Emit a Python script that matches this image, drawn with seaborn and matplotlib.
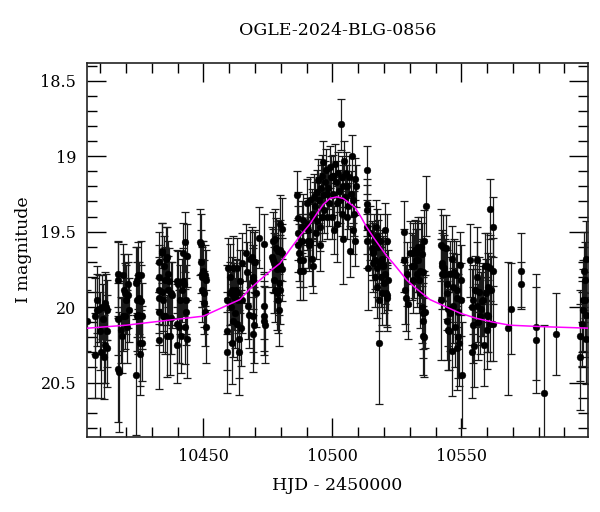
import numpy as np
import pandas as pd
import matplotlib
matplotlib.use("Agg")
import matplotlib.pyplot as plt
from matplotlib.ticker import MultipleLocator
import seaborn as sns

# ---------------- data ----------------
hjd = [
    10405.0, 10408.0, 10408.0, 10408.9, 10408.6, 10409.7, 10409.9, 10410.2, 10410.8, 10411.0,
    10411.5, 10411.9, 10412.0, 10412.3, 10412.8, 10412.8, 10412.5,
    10417.0, 10417.0, 10417.0, 10416.8, 10417.4, 10417.9, 10418.3, 10418.7, 10419.0, 10419.2,
    10419.6, 10419.6, 10419.9, 10420.3, 10420.6, 10420.9, 10421.2,
    10423.9, 10424.1, 10424.1, 10424.1, 10423.9, 10424.8, 10424.8, 10425.2, 10425.4, 10425.4,
    10425.8, 10426.1, 10426.1, 10425.8,
    10432.8, 10432.9, 10432.9, 10432.9, 10432.9, 10432.9, 10433.8, 10433.8, 10433.8, 10434.2,
    10434.5, 10434.7, 10435.1, 10435.1, 10435.5, 10435.8, 10436.0, 10436.4, 10436.4, 10436.8,
    10437.1, 10437.3, 10437.7, 10437.4,
    10439.9, 10439.9, 10439.9, 10440.3, 10440.7, 10440.9, 10441.2, 10441.6, 10442.0, 10442.2,
    10442.5, 10442.9, 10443.0, 10443.3, 10443.3, 10443.8, 10443.5,
    10448.7, 10448.9, 10448.9, 10449.3, 10449.3, 10449.6, 10450.0, 10450.2, 10450.4, 10450.6,
    10450.6, 10450.9, 10451.0,
    10459.0, 10459.0, 10459.0, 10459.7, 10460.3, 10460.3, 10460.6, 10461.0, 10461.0, 10461.3,
    10461.6, 10461.9, 10462.2, 10462.6, 10462.9, 10463.2, 10463.2, 10463.5, 10463.9, 10463.9,
    10464.4, 10464.8, 10464.8, 10464.2, 10466.5, 10466.8, 10467.4,
    10467.8, 10468.1, 10468.7, 10469.1, 10469.6, 10469.4, 10470.0, 10469.1, 10469.6, 10469.4,
    10470.3, 10471.7, 10473.6, 10473.5, 10473.5, 10473.5, 10473.9,
    10476.5, 10476.9, 10477.1, 10477.4, 10477.5, 10477.8, 10477.9, 10478.1, 10478.4, 10478.7,
    10478.8, 10479.0, 10479.4, 10479.4, 10479.7, 10479.9, 10479.9, 10480.3, 10480.3, 10480.5,
    10479.7,
    10486.4, 10486.8, 10486.8, 10486.8, 10487.2, 10487.4, 10487.4, 10488.1, 10488.1, 10488.5,
    10488.5, 10488.7, 10490.0, 10490.0, 10490.7, 10490.7, 10490.9, 10491.3, 10491.3, 10492.0,
    10492.0, 10492.4, 10492.6, 10492.9, 10493.3, 10493.6, 10493.9, 10494.2, 10494.6, 10494.9,
    10495.2, 10495.2, 10495.5, 10495.8, 10495.8, 10496.2, 10496.5, 10496.8, 10497.1, 10497.5,
    10497.8, 10498.0, 10498.4, 10498.8, 10499.1, 10499.3, 10499.7, 10500.1, 10500.4, 10500.6,
    10501.0, 10501.4, 10501.7, 10501.9, 10502.3, 10502.7, 10502.9, 10503.2, 10503.6, 10503.6,
    10504.0, 10504.2, 10504.5, 10504.9, 10505.3, 10505.5, 10505.8, 10506.2, 10506.6, 10506.8,
    10507.1, 10507.5, 10507.9, 10508.1, 10508.4, 10508.8, 10509.2, 10508.8,
    10513.3, 10513.3, 10513.3, 10513.5, 10513.5, 10513.9, 10514.6, 10515.2, 10515.6, 10515.9,
    10515.9, 10516.1, 10516.5, 10516.5, 10516.9, 10517.2, 10517.2, 10517.4, 10517.8, 10518.2,
    10518.2, 10518.2, 10518.5, 10518.7, 10519.1, 10519.1, 10519.5, 10519.7, 10520.0, 10520.4,
    10520.4, 10520.8, 10521.0, 10521.3, 10521.0, 10521.7,
    10527.8, 10527.8, 10528.1, 10528.4, 10528.8, 10529.4,
    10530.1, 10530.7, 10531.1, 10531.4, 10531.6, 10532.0, 10532.4, 10532.7, 10532.9, 10533.3,
    10533.3, 10533.7, 10534.0, 10534.0, 10534.2, 10534.6, 10534.6, 10535.0, 10535.0, 10535.3,
    10535.3, 10535.5, 10535.5, 10535.9, 10536.3,
    10542.0, 10542.0, 10542.4, 10542.4, 10542.7, 10543.0, 10543.3, 10543.6, 10544.0, 10544.3,
    10544.3, 10544.6, 10544.9, 10544.9, 10545.3, 10545.6, 10545.8, 10546.2, 10546.2, 10546.6,
    10546.9, 10547.1, 10547.5, 10547.9, 10548.2, 10548.4, 10548.8, 10548.8, 10549.2, 10549.5,
    10549.7, 10550.1, 10549.8, 10548.2,
    10553.3, 10554.0, 10554.0, 10554.4, 10554.6, 10554.9, 10555.3, 10555.9, 10555.9, 10556.2,
    10556.6, 10557.0, 10557.2, 10557.5, 10557.9, 10558.3, 10558.8, 10559.2, 10559.5, 10559.8,
    10560.1, 10560.1, 10560.4, 10560.4, 10561.1, 10561.1, 10561.3, 10561.7, 10562.1, 10562.1,
    10562.4,
    10568.2, 10569.1, 10573.0, 10573.0, 10578.9, 10578.9, 10582.0, 10586.9,
    10596.2, 10596.2, 10596.6, 10597.0, 10597.3, 10597.5, 10597.9, 10597.9, 10598.3, 10598.5,
    10598.3,
]

mag = [
    20.09, 20.06, 20.32, 19.95, 20.02, 20.01, 20.16, 20.30, 20.00, 20.08,
    20.33, 19.97, 20.25, 20.00, 20.02, 20.16, 20.27,
    19.78, 19.82, 20.08, 20.41, 20.43, 20.15, 20.19, 19.79, 20.06, 19.89,
    19.91, 20.06, 19.95, 20.13, 19.85, 19.92, 20.02,
    19.84, 19.82, 19.95, 20.06, 20.45, 19.79, 20.05, 19.94, 20.24, 20.31,
    19.79, 20.06, 20.24, 19.96,
    19.70, 19.80, 19.89, 19.94, 20.03, 20.22, 19.63, 19.64, 19.90, 19.95,
    20.06, 19.73, 19.82, 20.06, 19.68, 20.19, 19.67, 19.78, 19.89, 19.83,
    20.19, 19.91, 19.92, 20.07,
    19.83, 20.11, 20.25, 19.85, 20.13, 19.95, 20.19, 19.89, 19.83, 19.64,
    19.85, 19.57, 20.13, 19.95, 20.03, 19.66, 20.21,
    19.57, 19.58, 19.70, 19.78, 19.80, 19.89, 19.76, 19.91, 19.97, 19.79,
    20.03, 20.13, 19.82,
    19.95, 20.16, 20.30, 19.74, 19.80, 19.91, 20.00, 19.89, 20.24, 19.74,
    20.09, 19.93, 20.04, 19.89, 19.74, 19.91, 20.11, 19.95, 20.30, 20.21,
    20.14, 19.71, 19.95, 19.83, 19.64, 19.77, 19.99,
    20.05, 19.68, 19.67, 19.80, 19.70, 19.83, 19.70, 20.06, 20.12, 20.18,
    19.91, 19.54, 19.58, 19.99, 20.06, 20.09, 20.12,
    19.67, 19.69, 19.56, 19.71, 19.82, 19.89, 19.55, 19.61, 19.75, 19.91,
    19.95, 19.63, 20.02, 19.84, 19.45, 19.62, 19.89, 19.48, 19.64, 19.75,
    19.72,
    19.26, 19.41, 19.51, 19.59, 19.64, 19.69, 19.76, 19.47, 19.56, 19.76,
    19.69, 19.42, 19.31, 19.45, 19.49, 19.56, 19.59, 19.29, 19.57, 19.38,
    19.68, 19.73, 19.40, 19.27, 19.33, 19.51, 19.24, 19.43, 19.16, 19.29,
    19.59, 19.47, 19.21, 19.13, 19.40, 19.04, 19.26, 19.36, 19.17, 19.09,
    19.25, 19.40, 19.21, 19.31, 19.07, 19.14, 19.40, 19.13, 19.25, 19.49,
    19.05, 19.17, 19.31, 19.45, 19.11, 19.23, 19.29, 18.79, 19.14, 19.38,
    19.20, 19.55, 19.03, 19.27, 19.11, 19.40, 19.20, 19.33, 19.14, 19.63,
    19.25, 19.00, 19.49, 19.29, 19.38, 19.15, 19.20, 19.56,
    19.09, 19.32, 19.36, 19.47, 19.56, 19.74, 19.51, 19.61, 19.63, 19.64,
    19.71, 19.56, 19.69, 19.80, 19.47, 19.53, 19.74, 19.87, 19.60, 19.70,
    19.95, 20.24, 19.56, 19.80, 19.68, 19.91, 19.72, 19.73, 19.84, 19.78,
    19.49, 19.91, 19.92, 19.94, 19.56, 19.82,
    19.50, 19.69, 19.89, 19.94, 19.78, 19.98,
    19.64, 19.73, 19.64, 19.82, 19.73, 19.62, 19.69, 19.78, 19.64, 19.60,
    19.69, 19.82, 19.76, 19.91, 19.60, 19.65, 20.00, 20.04, 20.19, 19.77,
    20.09, 19.56, 20.20, 20.03, 19.33,
    19.95, 19.59, 19.71, 19.78, 19.73, 19.60, 19.74, 19.78, 19.61, 20.09,
    19.91, 19.85, 20.15, 20.01, 20.16, 19.78, 20.04, 20.29, 19.68, 19.87,
    19.99, 19.77, 20.13, 19.79, 19.89, 19.94, 20.20, 20.03, 20.24, 19.72,
    19.95, 20.45, 19.82, 20.27,
    19.69, 20.00, 20.30, 20.12, 19.95, 20.26, 19.89, 19.69, 19.80, 19.99,
    20.10, 19.90, 20.06, 20.01, 19.96, 19.95, 20.25, 19.73, 19.91, 19.73,
    20.15, 20.05, 19.87, 20.06, 19.35, 19.74, 20.11, 19.89, 19.47, 19.76,
    20.11,
    20.14, 20.01, 19.76, 19.85, 20.13, 20.22, 20.57, 20.18,
    20.19, 20.33, 20.11, 19.95, 20.02, 19.76, 19.82, 19.95, 19.68, 20.21,
    20.05,
]

mag_err = [
    0.20, 0.25, 0.28, 0.22, 0.24, 0.22, 0.26, 0.30, 0.21, 0.23,
    0.28, 0.20, 0.25, 0.22, 0.20, 0.24, 0.26,
    0.22, 0.25, 0.24, 0.35, 0.40, 0.22, 0.25, 0.21, 0.23, 0.24,
    0.20, 0.22, 0.23, 0.24, 0.20, 0.22, 0.21,
    0.24, 0.22, 0.25, 0.23, 0.40, 0.22, 0.26, 0.24, 0.28, 0.27,
    0.23, 0.22, 0.25, 0.24,
    0.20, 0.21, 0.22, 0.23, 0.22, 0.32, 0.19, 0.20, 0.22, 0.21,
    0.24, 0.20, 0.22, 0.25, 0.21, 0.27, 0.20, 0.22, 0.23, 0.22,
    0.26, 0.21, 0.22, 0.24,
    0.21, 0.26, 0.25, 0.22, 0.24, 0.23, 0.25, 0.21, 0.22, 0.20,
    0.21, 0.20, 0.25, 0.23, 0.22, 0.21, 0.26,
    0.22, 0.20, 0.21, 0.22, 0.20, 0.21, 0.20, 0.22, 0.21, 0.20,
    0.23, 0.24, 0.20,
    0.23, 0.26, 0.27, 0.20, 0.22, 0.21, 0.23, 0.22, 0.27, 0.21,
    0.24, 0.22, 0.23, 0.21, 0.20, 0.22, 0.24, 0.22, 0.28, 0.26,
    0.25, 0.20, 0.22, 0.21, 0.19, 0.20, 0.22,
    0.22, 0.19, 0.20, 0.21, 0.20, 0.22, 0.21, 0.24, 0.25, 0.25,
    0.22, 0.20, 0.20, 0.22, 0.23, 0.23, 0.25,
    0.20, 0.21, 0.19, 0.20, 0.22, 0.21, 0.20, 0.20, 0.21, 0.24,
    0.22, 0.20, 0.24, 0.21, 0.19, 0.20, 0.22, 0.20, 0.19, 0.21,
    0.20,
    0.16, 0.17, 0.18, 0.18, 0.19, 0.18, 0.19, 0.17, 0.18, 0.19,
    0.18, 0.17, 0.16, 0.17, 0.17, 0.18, 0.17, 0.15, 0.17, 0.16,
    0.18, 0.18, 0.16, 0.15, 0.16, 0.17, 0.15, 0.16, 0.14, 0.15,
    0.17, 0.16, 0.15, 0.14, 0.16, 0.14, 0.15, 0.15, 0.14, 0.14,
    0.15, 0.15, 0.14, 0.15, 0.14, 0.14, 0.15, 0.14, 0.14, 0.16,
    0.13, 0.14, 0.15, 0.25, 0.14, 0.14, 0.15, 0.17, 0.14, 0.15,
    0.14, 0.30, 0.13, 0.14, 0.14, 0.15, 0.14, 0.15, 0.14, 0.17,
    0.15, 0.14, 0.16, 0.15, 0.15, 0.14, 0.14, 0.17,
    0.16, 0.17, 0.17, 0.18, 0.18, 0.28, 0.18, 0.18, 0.19, 0.18,
    0.19, 0.18, 0.19, 0.20, 0.18, 0.18, 0.19, 0.20, 0.18, 0.19,
    0.21, 0.40, 0.18, 0.20, 0.19, 0.21, 0.19, 0.19, 0.20, 0.20,
    0.18, 0.21, 0.21, 0.22, 0.18, 0.20,
    0.20, 0.21, 0.22, 0.22, 0.21, 0.23,
    0.21, 0.22, 0.20, 0.22, 0.21, 0.20, 0.21, 0.22, 0.21, 0.20,
    0.21, 0.22, 0.21, 0.23, 0.20, 0.21, 0.24, 0.24, 0.26, 0.22,
    0.25, 0.20, 0.26, 0.24, 0.20,
    0.40, 0.24, 0.22, 0.23, 0.22, 0.21, 0.22, 0.23, 0.22, 0.26,
    0.24, 0.23, 0.27, 0.25, 0.26, 0.22, 0.25, 0.30, 0.22, 0.23,
    0.25, 0.22, 0.27, 0.23, 0.24, 0.24, 0.27, 0.25, 0.28, 0.22,
    0.24, 0.35, 0.23, 0.28,
    0.24, 0.25, 0.30, 0.25, 0.23, 0.27, 0.23, 0.22, 0.23, 0.24,
    0.25, 0.23, 0.25, 0.24, 0.23, 0.24, 0.27, 0.22, 0.23, 0.22,
    0.26, 0.25, 0.23, 0.24, 0.20, 0.22, 0.25, 0.23, 0.20, 0.22,
    0.25,
    0.44, 0.30, 0.25, 0.15, 0.35, 0.35, 0.45, 0.27,
    0.30, 0.35, 0.28, 0.26, 0.27, 0.26, 0.25, 0.26, 0.25, 0.30,
    0.28,
]

# model light curve (magenta)
model_hjd = [10400.0, 10405.0, 10420.0, 10435.0, 10450.0, 10459.0, 10464.2, 10468.0,
             10472.0, 10476.0, 10479.7, 10483.5, 10487.4, 10491.3, 10494.0, 10496.5,
             10499.1, 10501.7, 10504.2, 10506.5, 10508.8, 10511.0, 10513.3, 10516.0,
             10518.5, 10521.0, 10523.6, 10526.0, 10528.8, 10532.0, 10537.8, 10543.0,
             10549.5, 10555.9, 10562.4, 10568.8, 10581.8, 10600.0]
model_mag = [20.14, 20.14, 20.12, 20.09, 20.06, 19.99, 19.95, 19.88,
             19.82, 19.76, 19.71, 19.62, 19.53, 19.45, 19.38, 19.32,
             19.28, 19.27, 19.28, 19.31, 19.34, 19.40, 19.47, 19.54,
             19.60, 19.66, 19.71, 19.76, 19.82, 19.87, 19.95, 19.99,
             20.04, 20.075, 20.10, 20.12, 20.13, 20.14]

title = "OGLE-2024-BLG-0856"
xlabel = "HJD - 2450000"
ylabel = "I magnitude"

# ---------------- plotting ----------------
sns.set_style("ticks")
plt.rcParams["font.family"] = ["DejaVu Serif"]
plt.rcParams["mathtext.fontset"] = "dejavuserif"
plt.rcParams["text.color"] = "black"
plt.rcParams["axes.labelcolor"] = "black"
plt.rcParams["xtick.color"] = "black"
plt.rcParams["ytick.color"] = "black"

df = pd.DataFrame({"hjd": hjd, "mag": mag, "err": mag_err})
model = pd.DataFrame({"hjd": model_hjd, "mag": model_mag})

fig = plt.figure(figsize=(6.0, 5.12), dpi=100)
ax = fig.add_axes([0.1455, 0.147, 0.834, 0.7305])

ax.errorbar(df["hjd"], df["mag"], yerr=df["err"], fmt="none",
            ecolor="#1a1a1a", elinewidth=0.9, capsize=3.2, capthick=0.9, zorder=2)
sns.scatterplot(data=df, x="hjd", y="mag", ax=ax, color="black", s=24,
                edgecolor="black", linewidth=0.3, zorder=3, legend=False)
sns.lineplot(data=model, x="hjd", y="mag", ax=ax, color="#ff00ff", lw=1.1,
             zorder=4, legend=False, sort=False)

ax.set_xlim(10405.0, 10599.0)
ax.set_ylim(20.859, 18.381)

ax.xaxis.set_major_locator(MultipleLocator(50))
ax.xaxis.set_minor_locator(MultipleLocator(10))
ax.yaxis.set_major_locator(MultipleLocator(0.5))
ax.yaxis.set_minor_locator(MultipleLocator(0.1))
ax.set_yticks([18.5, 19.0, 19.5, 20.0, 20.5])
ax.set_yticklabels(["18.5", "19", "19.5", "20", "20.5"])

ax.tick_params(which="both", direction="in", top=True, right=True,
               colors="black", width=1.0, labelsize=11.5, pad=8)
ax.tick_params(which="major", length=14)
ax.tick_params(which="minor", length=7)
for s in ax.spines.values():
    s.set_color("#222222")
    s.set_linewidth(1.2)

ax.set_xlabel(xlabel, fontsize=12.5, labelpad=9, color="black")
ax.set_ylabel(ylabel, fontsize=12.5, labelpad=6, color="black")
ax.set_title(title, fontsize=12.5, pad=20, color="black")

fig.savefig("out.png", dpi=100)
